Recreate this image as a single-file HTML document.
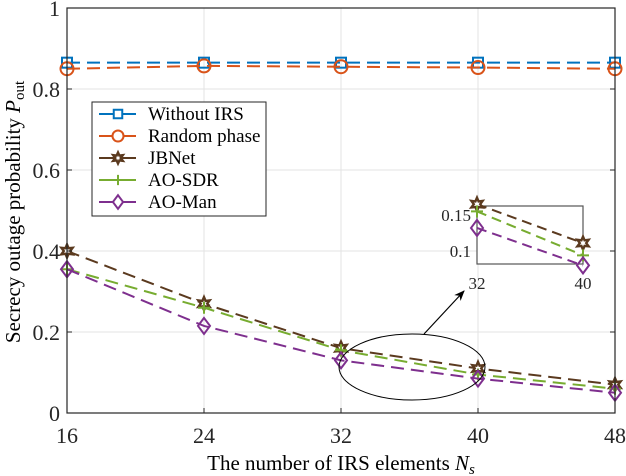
<!DOCTYPE html>
<html><head><meta charset="utf-8"><style>
body{margin:0;background:#fff}
svg{display:block;font-family:"Liberation Serif",serif}
</style></head><body>
<svg id="chart" width="626" height="476" viewBox="0 0 626 476" xmlns="http://www.w3.org/2000/svg">
<defs>
<marker id="ah" viewBox="0 0 10 10" refX="9" refY="5" markerWidth="9" markerHeight="9" orient="auto"><path d="M0,1 L10,5 L0,9 L3,5 Z" fill="#000"/></marker>
</defs>
<g id="grid"></g>
<g id="series"></g>
<g id="axes"></g>
<text x="341" y="470" font-size="21" text-anchor="middle">The number of IRS elements <tspan font-style="italic">N</tspan><tspan font-style="italic" font-size="15" dy="4">s</tspan></text>
<text transform="translate(20,212) rotate(-90)" font-size="21" text-anchor="middle">Secrecy outage probability <tspan font-style="italic">P</tspan><tspan font-size="15" dy="4">out</tspan></text>
<ellipse cx="412" cy="367" rx="73" ry="33" fill="none" stroke="#000" stroke-width="1"/>
<line x1="424" y1="334" x2="464" y2="291" stroke="#000" stroke-width="1.2" marker-end="url(#ah)"/>
<g id="inset"></g>
<g id="legend"></g>
</svg>
<script>
const categories=[16,24,32,40,48];
const withoutIRS=[0.865,0.865,0.865,0.865,0.865];
const randomPhase=[0.85,0.857,0.855,0.853,0.85];
const jbnet=[0.40,0.27,0.16,0.11,0.07];
const aoSdr=[0.355,0.26,0.155,0.095,0.06];
const aoMan=[0.355,0.215,0.13,0.085,0.05];
const insetCats=[32,40];
const insetJbnet=[0.165,0.111];
const insetSdr=[0.155,0.094];
const insetMan=[0.132,0.08];
const yTicks=[0,0.2,0.4,0.6,0.8,1];
const yTickLabels=["0","0.2","0.4","0.6","0.8","1"];
const insetYTicks=[0.1,0.15];
const insetYLabels=["0.1","0.15"];

const NS="http://www.w3.org/2000/svg";
const L=67,R=615,T=8,B=413;
const xs=v=>L+(v-16)/(48-16)*(R-L);
const ys=v=>B-v*(B-T);
function mk(tag,attrs,parent){const e=document.createElementNS(NS,tag);for(const k in attrs)e.setAttribute(k,attrs[k]);parent.appendChild(e);return e;}
const grid=document.getElementById('grid'),axes=document.getElementById('axes'),ser=document.getElementById('series'),inset=document.getElementById('inset'),leg=document.getElementById('legend');

categories.forEach(c=>{
  const g=mk('line',{x1:xs(c),x2:xs(c),y1:T,y2:B,stroke:'#e3e3e3','stroke-width':1},grid);
  
  
  const t=mk('text',{x:xs(c),y:B+30,'font-size':22,'text-anchor':'middle',fill:'#262626'},axes);t.textContent=c;
  
  
  const tk=mk('line',{x1:xs(c),x2:xs(c),y1:B,y2:B-5,stroke:'#262626'},axes);
  
  
});
yTicks.forEach((v,i)=>{
  const g=mk('line',{x1:L,x2:R,y1:ys(v),y2:ys(v),stroke:'#e3e3e3','stroke-width':1},grid);
  
  
  const t=mk('text',{x:L-7,y:ys(v)+8,'font-size':22,'text-anchor':'end',fill:'#262626'},axes);t.textContent=yTickLabels[i];
  
  
  const tk=mk('line',{x1:L,x2:L+5,y1:ys(v),y2:ys(v),stroke:'#262626'},axes);
  
  
  const tk2=mk('line',{x1:R,x2:R-5,y1:ys(v),y2:ys(v),stroke:'#262626'},axes);
  
  
});
const fr=mk('rect',{x:L,y:T,width:R-L,height:B-T,fill:'none',stroke:'#262626','stroke-width':1.2},axes);



function marker(type,x,y,color,parent,s){
  s=s||1;let e;
  if(type==='square') e=mk('rect',{x:x-5*s,y:y-5*s,width:10*s,height:10*s,fill:'none',stroke:color,'stroke-width':2},parent);
  else if(type==='circle') e=mk('circle',{cx:x,cy:y,r:6.5*s,fill:'none',stroke:color,'stroke-width':2},parent);
  else if(type==='star'){
    let p='';for(let k=0;k<12;k++){const r=(k%2?3.2:6.5)*s;const a=-Math.PI/2+k*Math.PI/6;p+=(k?'L':'M')+(x+r*Math.cos(a)).toFixed(1)+','+(y+r*Math.sin(a)).toFixed(1);}
    e=mk('path',{d:p+'Z',fill:'#fff',stroke:color,'stroke-width':2.4},parent);
  } else if(type==='plus') e=mk('path',{d:`M${x-6*s},${y}H${x+6*s}M${x},${y-6*s}V${y+6*s}`,stroke:color,'stroke-width':2,fill:'none'},parent);
  else e=mk('path',{d:`M${x},${y-8*s}L${x+6*s},${y}L${x},${y+8*s}L${x-6*s},${y}Z`,fill:'none',stroke:color,'stroke-width':2},parent);
  return e;
}
const seriesDefs=[
 {name:'Without IRS',data:withoutIRS,color:'#0072BD',m:'square',id:'without-irs'},
 {name:'Random phase',data:randomPhase,color:'#D95319',m:'circle',id:'random-phase'},
 {name:'JBNet',data:jbnet,color:'#5B3A1F',m:'star',id:'jbnet'},
 {name:'AO-SDR',data:aoSdr,color:'#77AC30',m:'plus',id:'ao-sdr'},
 {name:'AO-Man',data:aoMan,color:'#7E2F8E',m:'diamond',id:'ao-man'}
];
seriesDefs.forEach(s=>{
  const g=mk('g',{},ser);
  
  
  const pl=mk('polyline',{points:categories.map((c,i)=>xs(c)+','+ys(s.data[i])).join(' '),fill:'none',stroke:s.color,'stroke-width':2,'stroke-dasharray':'13,7'},g);
  
  
  categories.forEach((c,i)=>{
    const m=marker(s.m,xs(c),ys(s.data[i]),s.color,g);
    
    
  });
});

// inset
const IL=477,IR=583,IT=206,IB=264;
const ix=v=>IL+(v-32)/(40-32)*(IR-IL);
const iy=v=>251-(v-0.1)/0.05*36;
const ib=mk('rect',{x:IL,y:IT,width:IR-IL,height:IB-IT,fill:'#fff',stroke:'#555','stroke-width':1.2},inset);


insetYTicks.forEach((v,i)=>{
  const t=mk('text',{x:IL-6,y:iy(v)+6,'font-size':17,'text-anchor':'end',fill:'#262626'},inset);t.textContent=insetYLabels[i];
  
  
});
insetCats.forEach(c=>{
  const t=mk('text',{x:ix(c),y:IB+25,'font-size':17,'text-anchor':'middle',fill:'#262626'},inset);t.textContent=c;
  
  
});
[[insetJbnet,2],[insetSdr,3],[insetMan,4]].forEach(([d,k])=>{
  const s=seriesDefs[k];
  const pl=mk('polyline',{points:insetCats.map((c,i)=>ix(c)+','+iy(d[i])).join(' '),fill:'none',stroke:s.color,'stroke-width':2,'stroke-dasharray':'10,6'},inset);
  
  
  insetCats.forEach((c,i)=>{
    const m=marker(s.m,ix(c),iy(d[i]),s.color,inset);
    
    
  });
});

// legend
const lb=mk('rect',{x:92,y:102,width:174,height:114,fill:'#fff',stroke:'#262626','stroke-width':1},leg);


seriesDefs.forEach((s,i)=>{
  const y=114+i*22;
  const g=mk('g',{},leg);
  
  
  mk('line',{x1:99,x2:136,y1:y,y2:y,stroke:s.color,'stroke-width':2},g);
  const mm=marker(s.m,118,y,s.color,g,0.85);
  if(s.m!=='plus')mm.setAttribute('fill','#fff');
  const t=mk('text',{x:148,y:y+6,'font-size':19,fill:'#000'},g);t.textContent=s.name;
});
</script>
</body></html>
